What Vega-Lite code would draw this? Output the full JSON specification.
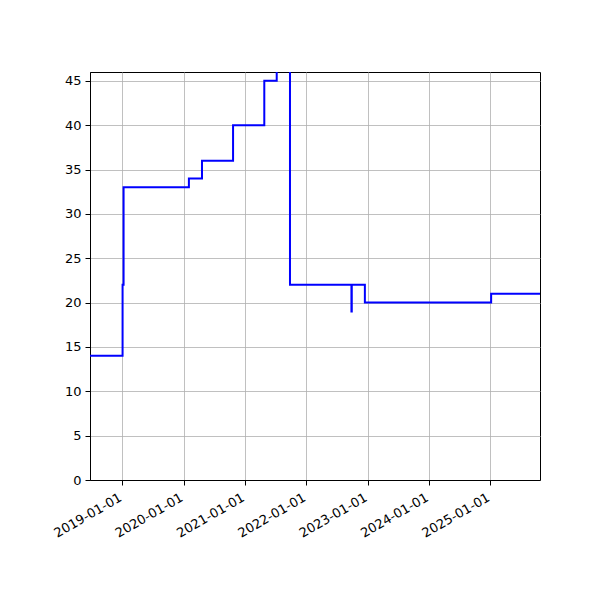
{
  "$schema": "https://vega.github.io/schema/vega-lite/v6.json",
  "width": 450,
  "height": 408,
  "autosize": "none",
  "padding": {"left": 90, "top": 72, "right": 60, "bottom": 120},
  "background": "white",
  "config": {
    "view": {"stroke": "black", "strokeWidth": 1},
    "axis": {
      "labelFont": "DejaVu Sans",
      "labelFontSize": 13,
      "labelColor": "black",
      "domainColor": "black",
      "domainWidth": 1,
      "tickColor": "black",
      "tickSize": 5,
      "tickWidth": 1,
      "labelPadding": 4,
      "gridColor": "#b0b0b0",
      "gridWidth": 0.8,
      "gridOpacity": 1,
      "title": null
    }
  },
  "data": {
    "values": [
      {"date": "2018-06-01", "value": 14},
      {"date": "2019-01-03", "value": 22},
      {"date": "2019-01-09", "value": 33},
      {"date": "2020-02-02", "value": 34},
      {"date": "2020-04-20", "value": 36},
      {"date": "2020-10-22", "value": 40},
      {"date": "2021-04-26", "value": 45},
      {"date": "2021-07-09", "value": 50},
      {"date": "2021-09-26", "value": 22},
      {"date": "2022-09-27", "value": 19},
      {"date": "2022-09-29", "value": 22},
      {"date": "2022-12-16", "value": 20},
      {"date": "2025-01-06", "value": 21},
      {"date": "2025-12-01", "value": 21}
    ]
  },
  "mark": {"type": "line", "interpolate": "step-after", "color": "#0000ff", "strokeWidth": 2, "clip": true},
  "encoding": {
    "x": {
      "field": "date",
      "type": "temporal",
      "scale": {
        "type": "utc",
        "domain": [
          {"year": 2018, "month": 6, "date": 23, "utc": true},
          {"year": 2025, "month": 10, "date": 24, "utc": true}
        ]
      },
      "axis": {
        "values": [
          {"year": 2019, "month": 1, "date": 1, "utc": true},
          {"year": 2020, "month": 1, "date": 1, "utc": true},
          {"year": 2021, "month": 1, "date": 1, "utc": true},
          {"year": 2022, "month": 1, "date": 1, "utc": true},
          {"year": 2023, "month": 1, "date": 1, "utc": true},
          {"year": 2024, "month": 1, "date": 1, "utc": true},
          {"year": 2025, "month": 1, "date": 1, "utc": true}
        ],
        "labelExpr": "utcFormat(datum.value, '%Y-%m-%d')",
        "labelAngle": -30,
        "labelAlign": "right",
        "labelBaseline": "top",
        "labelOffset": -5,
        "labelPadding": 6,
        "labelOverlap": false,
        "grid": true
      }
    },
    "y": {
      "field": "value",
      "type": "quantitative",
      "scale": {"domain": [0, 46], "nice": false, "zero": true},
      "axis": {"values": [0, 5, 10, 15, 20, 25, 30, 35, 40, 45], "grid": true}
    }
  }
}
